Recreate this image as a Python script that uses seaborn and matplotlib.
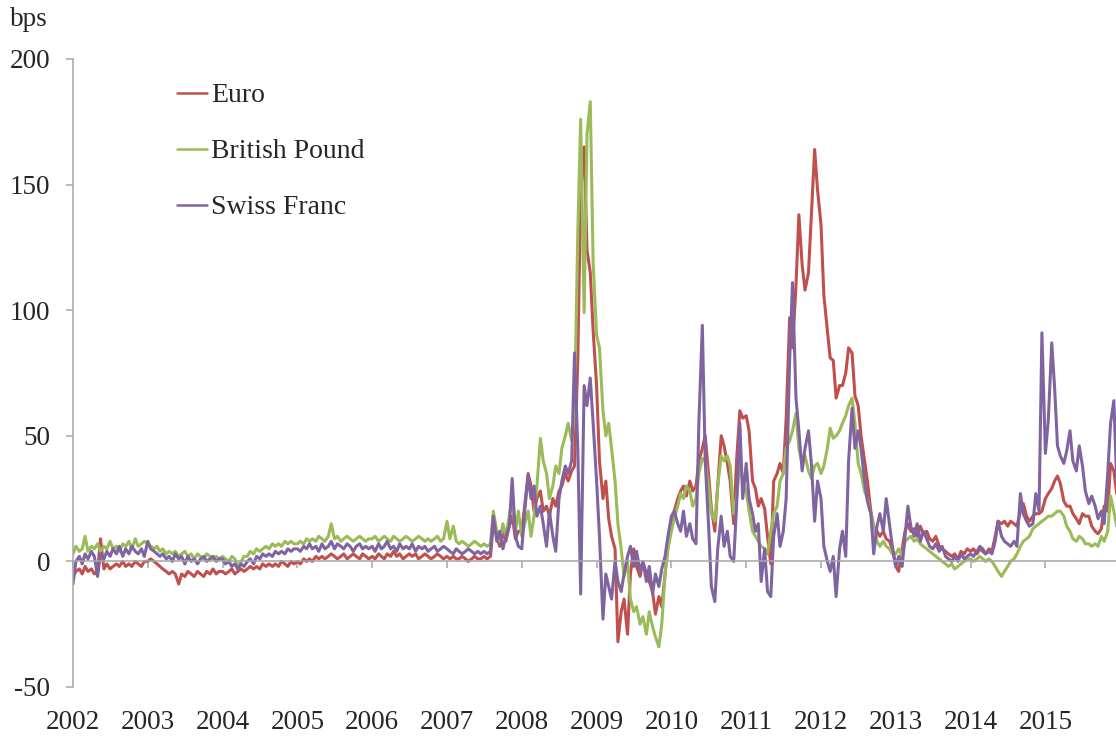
import numpy as np
import pandas as pd
import matplotlib
matplotlib.use("Agg")
import matplotlib.pyplot as plt
import seaborn as sns

# Semi-monthly observations (1st and 15th of each month), 2002-2015, basis points
DATES = pd.date_range("2002-01-01", "2015-12-15", freq="SMS")

EURO = [
    -6, -4, -3, -5, -2, -4, -3, -5, -4, 9, -3, -1, -3, -2, -1, -2, 0, -2, -1, -2, 0, -1, -2, 0,              # 2002
    0, 1, 0, -1, -2, -3, -4, -5, -4, -5, -9, -5, -6, -4, -5, -6, -4, -5, -6, -4, -5, -3, -5, -4,            # 2003
    -4, -5, -4, -3, -5, -4, -3, -4, -3, -2, -3, -2, -3, -1, -2, -1, -2, -1, -2, 0, -1, -2, 0, -1,           # 2004
    0, -1, 1, 0, 1, 0, 2, 1, 2, 1, 2, 3, 2, 1, 2, 3, 1, 2, 3, 2, 1, 3, 2, 1,                                # 2005
    2, 1, 3, 2, 1, 3, 2, 4, 2, 3, 1, 2, 3, 2, 3, 1, 2, 3, 2, 1, 2, 3, 2, 1,                                 # 2006
    2, 1, 2, 1, 1, 2, 1, 0, 1, 2, 1, 1, 2, 1, 2, 15, 10, 6, 12, 8, 14, 18, 9, 12,                           # 2007
    12, 22, 35, 30, 20, 25, 28, 20, 22, 18, 25, 22, 28, 30, 35, 32, 36, 38, 80, 147, 165, 124, 115, 92,     # 2008
    70, 40, 25, 32, 17, 10, 5, -32, -20, -15, -29, -5, 5, -2, -6, 0, -5, -8, -12, -21, -14, -18, -5, 6,     # 2009
    15, 20, 25, 28, 30, 26, 32, 28, 30, 40, 45, 50, 35, 21, 12, 30, 50, 46, 39, 32, 15, 40, 60, 57,         # 2010
    58, 52, 32, 29, 22, 25, 21, 10, -1, 32, 35, 39, 35, 57, 97, 85, 110, 138, 118, 108, 115, 138, 164, 148, # 2011
    134, 106, 92, 81, 80, 65, 70, 70, 75, 85, 83, 66, 62, 50, 40, 32, 20, 14, 12, 10, 12, 9, 8, 5,          # 2012
    -2, -4, 5, 12, 15, 12, 13, 10, 14, 11, 12, 9, 8, 10, 6, 5, 4, 3, 2, 3, 1, 4, 3, 5,                      # 2013
    4, 5, 3, 5, 4, 3, 5, 4, 10, 16, 15, 16, 14, 16, 15, 14, 20, 23, 18, 16, 18, 19, 19, 20,                 # 2014
    25, 27, 29, 32, 34, 31, 24, 22, 22, 19, 17, 15, 19, 18, 18, 14, 12, 11, 13, 22, 20, 39, 36, 27,         # 2015
]

BRITISH_POUND = [
    3, 6, 4, 5, 10, 4, 6, 5, 7, 4, 6, 5, 8, 5, 6, 4, 7, 6, 8, 5, 9, 6, 7, 8,                                # 2002
    7, 6, 5, 6, 4, 5, 3, 4, 3, 4, 2, 3, 4, 2, 3, 1, 3, 2, 1, 3, 2, 1, 2, 1,                                 # 2003
    2, 1, 0, 2, 1, -2, 0, 2, 2, 4, 3, 5, 4, 5, 6, 5, 7, 6, 7, 6, 8, 7, 8, 7,                                # 2004
    7, 8, 7, 9, 8, 9, 8, 10, 9, 8, 10, 15, 9, 10, 8, 9, 10, 9, 8, 9, 10, 9, 8, 9,                           # 2005
    9, 10, 8, 9, 10, 9, 8, 10, 9, 8, 9, 10, 9, 8, 9, 10, 9, 8, 9, 8, 9, 10, 8, 9,                           # 2006
    16, 9, 14, 8, 7, 8, 7, 6, 7, 8, 7, 6, 7, 6, 7, 20, 12, 8, 15, 10, 18, 25, 12, 20,                       # 2007
    10, 15, 20, 10, 18, 30, 49, 40, 35, 25, 30, 38, 35, 45, 50, 55, 48, 60, 131, 176, 99, 170, 183, 119,    # 2008
    90, 85, 60, 50, 55, 45, 32, 15, 5, -6, 0, -15, -20, -18, -25, -22, -29, -20, -26, -30, -34, -25, -5, 5, # 2009
    12, 17, 22, 27, 25, 30, 28, 22, 25, 35, 41, 40, 30, 19, 16, 30, 42, 40, 42, 38, 19, 25, 39, 32,         # 2010
    28, 20, 12, 10, 8, 6, 5, 3, 12, 19, 22, 32, 35, 45, 48, 52, 59, 45, 39, 42, 36, 33, 38, 39,             # 2011
    35, 38, 45, 53, 49, 50, 52, 55, 58, 62, 65, 55, 39, 35, 28, 25, 19, 14, 8, 6, 8, 6, 5, 3,               # 2012
    3, 5, 2, 8, 9, 10, 8, 9, 7, 6, 5, 4, 3, 2, 1, 0, -1, -2, -1, -3, -2, -1, 0, 1,                          # 2013
    1, 0, 1, 2, 1, 0, 1, 0, -2, -4, -6, -4, -2, 0, 1, 3, 6, 8, 9, 10, 13, 14, 15, 16,                       # 2014
    17, 18, 18, 19, 20, 20, 18, 14, 12, 9, 8, 10, 9, 7, 7, 6, 7, 6, 10, 8, 12, 26, 20, 14,                  # 2015
]

SWISS_FRANC = [
    -9, 0, 2, -1, 3, 1, 4, 2, -6, 3, 1, 4, 2, 5, 3, 6, 2, 5, 3, 6, 4, 3, 5, 2,                              # 2002
    8, 5, 4, 3, 2, 3, 1, 2, 0, 3, 1, 2, -1, 2, 0, 1, -1, 1, 2, 0, 1, 2, 0, 1,                               # 2003
    1, -1, 0, -2, -1, -3, -1, -2, 0, 1, -1, 2, 1, 3, 2, 3, 2, 4, 3, 4, 3, 5, 4, 5,                          # 2004
    5, 4, 6, 5, 7, 5, 6, 4, 7, 5, 6, 8, 5, 7, 6, 5, 7, 6, 4, 6, 7, 5, 6, 5,                                 # 2005
    6, 4, 7, 5, 6, 8, 5, 6, 4, 7, 5, 6, 5, 7, 4, 6, 5, 6, 4, 5, 6, 4, 5, 6,                                 # 2006
    5, 4, 3, 5, 4, 3, 4, 5, 4, 3, 4, 3, 4, 3, 4, 18, 8, 12, 5, 10, 14, 33, 10, 6,                           # 2007
    5, 20, 34, 25, 30, 18, 22, 15, 6, 20, 10, 4, 25, 32, 38, 35, 40, 83, 45, -13, 70, 62, 73, 55,           # 2008
    32, 10, -23, -5, -10, -15, 0, -8, -12, -5, 2, 6, -2, 4, -4, 0, -8, -2, -13, -5, -10, -3, 2, 10,         # 2009
    18, 20, 15, 12, 20, 10, 15, 9, 7, 55, 94, 40, 15, -10, -16, 5, 18, 6, 12, 2, 0, 22, 55, 25,             # 2010
    39, 25, 19, 12, 15, -8, 5, -12, -14, 10, 19, 6, 12, 25, 80, 111, 65, 52, 36, 45, 52, 39, 16, 32,        # 2011
    25, 6, 0, -4, 2, -14, 5, 12, 2, 40, 61, 45, 52, 45, 32, 24, 19, 3, 14, 19, 12, 25, 15, 6,               # 2012
    -2, 2, -2, 10, 22, 14, 10, 15, 8, 12, 9, 6, 5, 7, 4, 6, 2, 1, 0, 2, 0, 3, 1, 2,                         # 2013
    3, 2, 4, 6, 5, 3, 4, 3, 8, 16, 10, 8, 7, 6, 8, 6, 27, 19, 16, 14, 15, 27, 20, 91,                       # 2014
    43, 56, 87, 69, 46, 42, 39, 44, 52, 40, 36, 46, 38, 28, 23, 26, 22, 17, 20, 15, 35, 55, 64, 32,         # 2015
]

SERIES = ["Euro", "British Pound", "Swiss Franc"]
COLORS = ["#C0504D", "#9BBB59", "#8064A2"]
YEARS = list(range(2002, 2016))
Y_TICKS = [-50, 0, 50, 100, 150, 200]

# Decimal-year position of each observation
days_in_year = np.where(DATES.is_leap_year, 366, 365)
t = DATES.year + (DATES.dayofyear - 1) / days_in_year

df = pd.concat(
    [pd.DataFrame({"t": t, "bps": vals, "currency": name})
     for name, vals in zip(SERIES, [EURO, BRITISH_POUND, SWISS_FRANC])],
    ignore_index=True,
)

sns.set_theme(style="white")
plt.rcParams["font.family"] = ["Liberation Serif", "DejaVu Serif"]
FS = 19.5
plt.rcParams["font.size"] = FS

W, H = 1116, 737
fig = plt.figure(figsize=(W / 100, H / 100), dpi=100)
ax = fig.add_axes([73 / W, 50 / H, (W - 73) / W, 628 / H])

sns.lineplot(data=df, x="t", y="bps", hue="currency", hue_order=SERIES,
             palette=COLORS, estimator=None, linewidth=2.2, ax=ax, legend=True)

ax.set_xlim(2002.0, 2002.0 + (W - 73) / 74.8)
ax.set_ylim(-50, 200)
ax.set_xlabel("")
ax.set_ylabel("")

axis_grey = "#A6A6A6"
for side in ("top", "right"):
    ax.spines[side].set_visible(False)
ax.spines["left"].set_color(axis_grey)
ax.spines["left"].set_linewidth(1.1)
ax.spines["bottom"].set_position(("data", 0))
ax.spines["bottom"].set_color(axis_grey)
ax.spines["bottom"].set_linewidth(1.1)

ax.set_yticks(Y_TICKS)
ax.set_yticklabels([str(v) for v in Y_TICKS])
ax.tick_params(axis="y", direction="out", length=5, width=1.1, color=axis_grey,
               pad=11.5, labelsize=FS, left=True)
ax.set_xticks(YEARS)
ax.tick_params(axis="x", direction="out", length=5, width=1.1, color=axis_grey,
               labelbottom=False, bottom=True)

# Year labels along the bottom edge of the plot
sec = ax.secondary_xaxis("bottom")
sec.set_xticks(YEARS)
sec.set_xticklabels([str(y) for y in YEARS])
sec.tick_params(axis="x", length=0, pad=16.5, labelsize=FS)
sec.spines["bottom"].set_visible(False)

handles, labels = ax.get_legend_handles_labels()
leg = ax.legend(handles, labels, loc="upper left",
                bbox_to_anchor=(177 / W, 1 - 83 / H), bbox_transform=fig.transFigure,
                frameon=False, fontsize=20, handlelength=1.08, handletextpad=0.15,
                labelspacing=1.1, borderpad=0, borderaxespad=0)
for line in leg.get_lines():
    line.set_linewidth(1.8)

fig.text(10 / W, 1 - 20 / H, "bps", ha="left", va="center", fontsize=FS)

fig.savefig("out.png", dpi=100)
